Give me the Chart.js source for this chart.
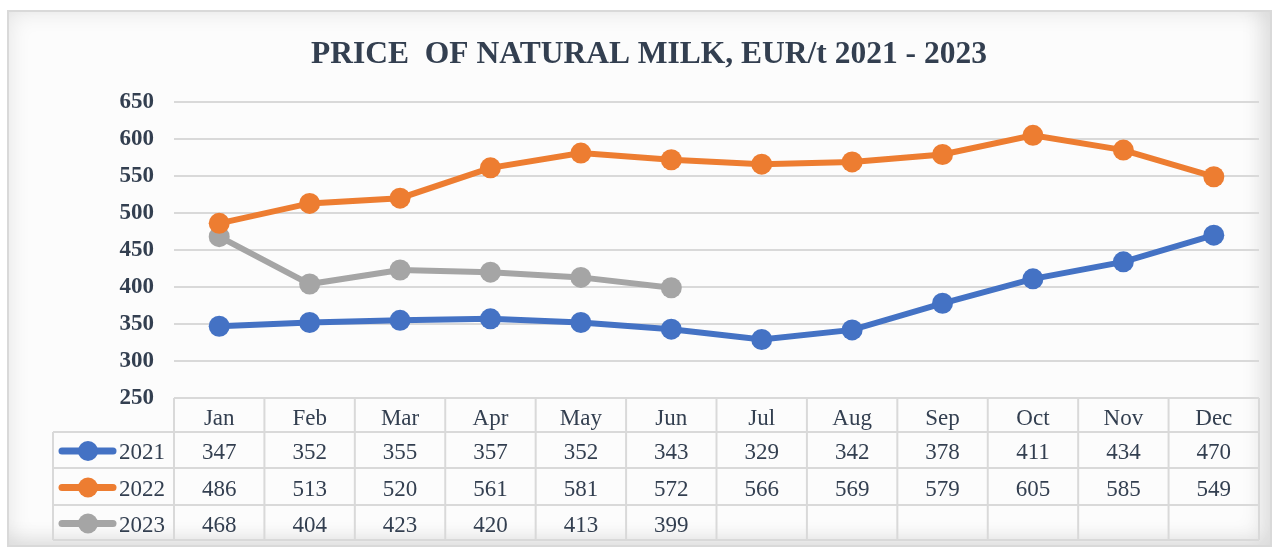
<!DOCTYPE html>
<html>
<head>
<meta charset="utf-8">
<script src="https://cdn.jsdelivr.net/npm/chart.js@4"></script>
<style>
  html, body { margin:0; padding:0; background:#ffffff; }
  #wrap { position:relative; width:1279px; height:547px; overflow:hidden; }
  #frame { position:absolute; left:7px; top:10px; width:1261px; height:533px;
    border:2px solid #d9d9d9; background:#fcfcfc;
    box-shadow: inset 0 0 22px rgba(0,0,0,0.10), inset -14px -10px 18px rgba(0,0,0,0.06); }
  canvas { position:absolute; left:0; top:0; }
</style>
</head>
<body>
<div id="wrap">
  <div id="frame"></div>
  <canvas id="c" width="1279" height="547"></canvas>
</div>
<script>
const months = ["Jan","Feb","Mar","Apr","May","Jun","Jul","Aug","Sep","Oct","Nov","Dec"];
const seriesNames = ["2021","2022","2023"];
const values2021 = [347,352,355,357,352,343,329,342,378,411,434,470];
const values2022 = [486,513,520,561,581,572,566,569,579,605,585,549];
const values2023 = [468,404,423,420,413,399,null,null,null,null,null,null];
const yTicks = [250,300,350,400,450,500,550,600,650];
const titleText = "PRICE  OF NATURAL MILK, EUR/t 2021 - 2023";

const colors = ["#4472C4","#ED7D31","#A5A5A5"];
const allValues = [values2021, values2022, values2023];
const textColor = "#333F50";
const gridColor = "#d9d9d9";

const titlePlugin = {
  id: 'offsetTitle',
  afterDraw(chart) {
    const ctx = chart.ctx;
    ctx.save();
    ctx.fillStyle = textColor;
    ctx.font = 'bold 31.5px "Liberation Serif", "Times New Roman", serif';
    ctx.textAlign = 'center';
    ctx.textBaseline = 'alphabetic';
    ctx.fillText(titleText, 649, 63);
    ctx.restore();
  }
};

const tablePlugin = {
  id: 'dataTable',
  afterDraw(chart) {
    const ctx = chart.ctx;
    const x = chart.scales.x;
    const area = chart.chartArea;
    const n = months.length;
    const half = (x.getPixelForValue(1) - x.getPixelForValue(0)) / 2;
    const left = x.getPixelForValue(0) - half;
    const right = x.getPixelForValue(n - 1) + half;
    const top = area.bottom;
    const rowsY = [top, 432, 468, 505, 540];
    const legendLeft = 53;
    ctx.save();
    ctx.strokeStyle = gridColor;
    ctx.lineWidth = 2;
    ctx.beginPath();
    ctx.moveTo(left, rowsY[0]); ctx.lineTo(right, rowsY[0]);
    for (let r = 1; r < rowsY.length; r++) {
      ctx.moveTo(legendLeft, rowsY[r]); ctx.lineTo(right, rowsY[r]);
    }
    for (let i = 0; i <= n; i++) {
      const px = left + i * half * 2;
      ctx.moveTo(px, rowsY[0]); ctx.lineTo(px, rowsY[rowsY.length - 1]);
    }
    ctx.moveTo(legendLeft, rowsY[1]); ctx.lineTo(legendLeft, rowsY[rowsY.length - 1]);
    ctx.stroke();

    ctx.fillStyle = textColor;
    ctx.font = '23px "Liberation Serif", "Times New Roman", serif';
    ctx.textAlign = 'center';
    ctx.textBaseline = 'middle';
    for (let i = 0; i < n; i++) {
      ctx.fillText(months[i], x.getPixelForValue(i), (rowsY[0] + rowsY[1]) / 2 + 4);
    }
    for (let s = 0; s < allValues.length; s++) {
      const cy = (rowsY[s + 1] + rowsY[s + 2]) / 2 + 3;
      ctx.textAlign = 'center';
      ctx.fillStyle = textColor;
      for (let i = 0; i < n; i++) {
        const v = allValues[s][i];
        if (v !== null && v !== undefined) ctx.fillText(String(v), x.getPixelForValue(i), cy);
      }
      const ly = cy - 2;
      ctx.strokeStyle = colors[s];
      ctx.lineWidth = 7;
      ctx.lineCap = 'round';
      ctx.beginPath();
      ctx.moveTo(62, ly); ctx.lineTo(113, ly);
      ctx.stroke();
      ctx.fillStyle = colors[s];
      ctx.beginPath();
      ctx.arc(88, ly, 10, 0, Math.PI * 2);
      ctx.fill();
      ctx.fillStyle = textColor;
      ctx.textAlign = 'left';
      ctx.fillText(seriesNames[s], 119, cy);
    }
    ctx.restore();
  }
};

new Chart(document.getElementById('c'), {
  type: 'line',
  data: {
    labels: months,
    datasets: allValues.map((vals, i) => ({
      label: seriesNames[i],
      data: vals,
      borderColor: colors[i],
      backgroundColor: colors[i],
      borderWidth: 6,
      pointRadius: 10.5,
      pointHoverRadius: 10.5,
      pointBackgroundColor: colors[i],
      pointBorderWidth: 0,
      tension: 0,
      spanGaps: false
    }))
  },
  options: {
    responsive: false,
    animation: false,
    events: [],
    layout: { padding: { top: 102, left: 0, right: 20, bottom: 149 } },
    plugins: {
      legend: { display: false },
      tooltip: { enabled: false },
      title: { display: false }
    },
    scales: {
      x: {
        type: 'category',
        offset: true,
        display: false
      },
      y: {
        min: 250,
        max: 650,
        afterBuildTicks(axis) { axis.ticks = yTicks.map(v => ({ value: v })); },
        afterFit(axis) { axis.width = 174; },
        border: { display: false },
        grid: { color: gridColor, lineWidth: 2, drawTicks: false },
        ticks: {
          padding: 20,
          color: textColor,
          font: { family: '"Liberation Serif", "Times New Roman", serif', size: 23, weight: 'bold' }
        }
      }
    }
  },
  plugins: [tablePlugin, titlePlugin]
});
</script>
</body>
</html>
